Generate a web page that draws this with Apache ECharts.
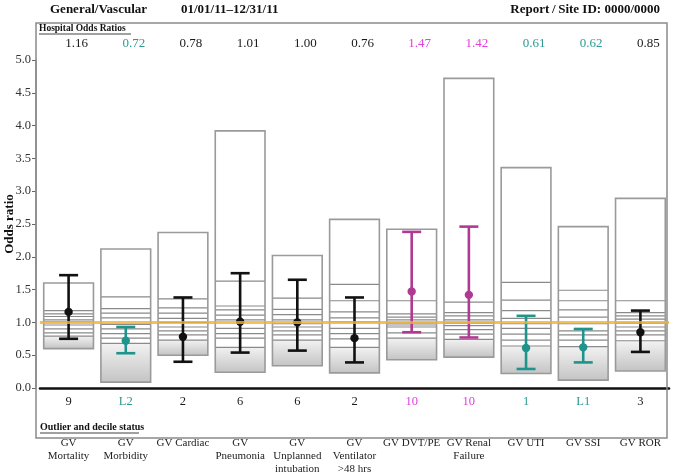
<!DOCTYPE html>
<html>
<head>
<meta charset="utf-8">
<script src="https://cdn.jsdelivr.net/npm/echarts@6/dist/echarts.min.js"></script>
<style>
html,body{margin:0;padding:0;background:#fff;}
#chart{width:674px;height:474px;}
</style>
</head>
<body>
<div id="chart"></div>
<script>
// ---- data ----
var categories = ['GV\nMortality','GV\nMorbidity','GV Cardiac','GV\nPneumonia','GV\nUnplanned\nintubation','GV\nVentilator\n>48 hrs','GV DVT/PE','GV Renal\nFailure','GV UTI','GV SSI','GV ROR'];
var hospitalOR = [1.16,0.72,0.78,1.01,1.00,0.76,1.47,1.42,0.61,0.62,0.85];
var ciLower    = [0.75,0.53,0.40,0.54,0.57,0.39,0.85,0.77,0.29,0.39,0.55];
var ciUpper    = [1.72,0.93,1.38,1.75,1.65,1.38,2.38,2.46,1.10,0.90,1.18];
var boxMin     = [0.60,0.09,0.50,0.24,0.34,0.23,0.43,0.47,0.22,0.12,0.26];
var boxMax     = [1.60,2.12,2.37,3.92,2.02,2.57,2.42,4.72,3.36,2.46,2.89];
var deciles = [
  [0.79,0.84,0.90,0.96,1.01,1.04,1.09,1.13,1.18],
  [0.68,0.76,0.83,0.90,0.97,1.07,1.14,1.21,1.39],
  [0.73,0.81,0.87,0.93,1.00,1.06,1.14,1.22,1.36],
  [0.62,0.76,0.83,0.91,1.04,1.11,1.19,1.25,1.63],
  [0.73,0.81,0.87,0.93,0.98,1.04,1.12,1.20,1.37],
  [0.62,0.75,0.83,0.91,1.01,1.07,1.16,1.33,1.58],
  [0.76,0.84,0.93,0.96,0.99,1.04,1.08,1.13,1.33],
  [0.74,0.82,0.89,0.95,0.99,1.04,1.10,1.15,1.31],
  [0.64,0.73,0.82,0.91,0.98,1.06,1.18,1.34,1.61],
  [0.63,0.73,0.81,0.87,0.98,1.08,1.19,1.33,1.49],
  [0.72,0.81,0.87,0.93,0.99,1.05,1.10,1.15,1.33]
];
var decileStatus = ['9','L2','2','6','6','2','10','10','1','L1','3'];
var statusGroup  = ['n','low','n','n','n','n','high','high','low','low','n'];
var referenceOR = 1.0;

// ---- styles ----
var FONT = '"Liberation Serif","Times New Roman",serif';
var textColor = {n:'#1a1a1a', low:'#2a9a92', high:'#e040dc'};
var barColor  = {n:'#111111', low:'#1f948c', high:'#b03a92'};

var boxData = categories.map(function(c,i){
  return [i, boxMin[i], boxMax[i]].concat(deciles[i]);
});
var ciData = categories.map(function(c,i){
  return [i, ciLower[i], ciUpper[i], hospitalOR[i]];
});

function renderBox(params, api){
  var i = api.value(0);
  var band = api.size([1,0])[0];
  var w = band*0.87;
  var pMin = api.coord([i, api.value(1)]);
  var pMax = api.coord([i, api.value(2)]);
  var pD1 = api.coord([i, api.value(3)]);
  var x0 = pMin[0]-w/2;
  var children = [];
  children.push({type:'rect', shape:{x:x0, y:pD1[1], width:w, height:pMin[1]-pD1[1]},
    style:{fill:new echarts.graphic.LinearGradient(0,0,0,1,[{offset:0,color:'#f2f2f2'},{offset:1,color:'#c4c4c4'}])}});
  for (var k=3;k<12;k++){
    var p = api.coord([i, api.value(k)]);
    children.push({type:'line', shape:{x1:x0, y1:p[1], x2:x0+w, y2:p[1]},
      style:{stroke:'#8a8a8a', lineWidth:1.2}});
  }
  children.push({type:'rect', shape:{x:x0, y:pMax[1], width:w, height:pMin[1]-pMax[1]},
    style:{fill:null, stroke:'#9a9a9a', lineWidth:1.6}});
  return {type:'group', children:children};
}

function renderCI(params, api){
  var i = api.value(0);
  var col = barColor[statusGroup[i]];
  var lo = api.coord([i, api.value(1)]);
  var hi = api.coord([i, api.value(2)]);
  var pt = api.coord([i, api.value(3)]);
  var cap = 9.5;
  var st = {stroke:col, lineWidth:2.6};
  return {type:'group', children:[
    {type:'line', shape:{x1:lo[0], y1:lo[1], x2:hi[0], y2:hi[1]}, style:st},
    {type:'line', shape:{x1:lo[0]-cap, y1:lo[1], x2:lo[0]+cap, y2:lo[1]}, style:st},
    {type:'line', shape:{x1:hi[0]-cap, y1:hi[1], x2:hi[0]+cap, y2:hi[1]}, style:st},
    {type:'circle', shape:{cx:pt[0], cy:pt[1], r:4.2}, style:{fill:col}}
  ]};
}

var chart = echarts.init(document.getElementById('chart'), null, {renderer:'canvas'});
chart.setOption({
  animation:false,
  backgroundColor:'#fff',
  textStyle:{fontFamily:FONT},
  grid:{left:40, right:5, top:60, bottom:86, containLabel:false, outerBoundsMode:'none'},
  xAxis:[
    {type:'category', data:categories, position:'bottom',
     axisLine:{show:true, lineStyle:{color:'#111', width:2.6}},
     axisTick:{show:false},
     axisLabel:{interval:0, margin:49, fontFamily:FONT, fontSize:11, lineHeight:13, color:'#222', hideOverlap:false}},
    {type:'category', data:decileStatus, position:'bottom',
     axisLine:{show:false}, axisTick:{show:false},
     axisLabel:{interval:0, margin:7, fontFamily:FONT, fontSize:12.5,
       color:function(v,idx){return textColor[statusGroup[idx]];}}},
    {type:'category', data:hospitalOR.map(function(v){return v.toFixed(2);}), position:'top',
     axisLine:{show:false}, axisTick:{show:false},
     axisLabel:{interval:0, margin:10, fontFamily:FONT, fontSize:13, padding:[0,0,0,16],
       color:function(v,idx){return textColor[statusGroup[idx]];}}}
  ],
  yAxis:{type:'value', min:0, max:5, interval:0.5, offset:4,
    name:'Odds ratio', nameLocation:'middle', nameGap:20, nameMoveOverlap:false,
    nameTextStyle:{fontFamily:FONT, fontWeight:'bold', fontSize:13, color:'#111', padding:[0,0,0,0]},
    axisLine:{show:true, lineStyle:{color:'#8a8a8a', width:1.5}},
    axisTick:{show:true, length:4, lineStyle:{color:'#666'}},
    axisLabel:{margin:5, fontFamily:FONT, fontSize:12.5, color:'#333',
      formatter:function(v){return v.toFixed(1);}},
    splitLine:{show:false}},
  series:[
    {type:'custom', renderItem:renderBox, data:boxData, z:2, xAxisIndex:0},
    {type:'custom', renderItem:renderCI, data:ciData, z:4, xAxisIndex:0},
    {type:'line', data:[], xAxisIndex:0, z:6,
     markLine:{silent:true, symbol:'none', label:{show:false},
       lineStyle:{color:'#f0b030', width:3, type:'solid', opacity:0.8},
       data:[{yAxis:referenceOR}]}}
  ],
  graphic:[
    {type:'rect', shape:{x:36, y:23, width:631, height:415}, style:{fill:null, stroke:'#8a8a8a', lineWidth:1.5}, z:1},
    {type:'text', left:50, top:3, style:{text:'General/Vascular', font:'bold 13px '+FONT, fill:'#111'}},
    {type:'text', left:181, top:3, style:{text:'01/01/11\u201312/31/11', font:'bold 13px '+FONT, fill:'#111'}},
    {type:'text', right:14, top:3, style:{text:'Report\u2009/\u2009Site ID: 0000/0000', font:'bold 13px '+FONT, fill:'#111'}},
    {type:'text', left:39, top:24, style:{text:'Hospital Odds Ratios', font:'bold 9.5px '+FONT, fill:'#111'}},
    {type:'line', shape:{x1:39, y1:34, x2:131, y2:34}, style:{stroke:'#111', lineWidth:0.8}},
    {type:'text', left:40, top:422, style:{text:'Outlier and decile status', font:'bold 10px '+FONT, fill:'#111'}},
    {type:'line', shape:{x1:40, y1:433, x2:139, y2:433}, style:{stroke:'#111', lineWidth:0.8}}
  ]
});
</script>
</body>
</html>
